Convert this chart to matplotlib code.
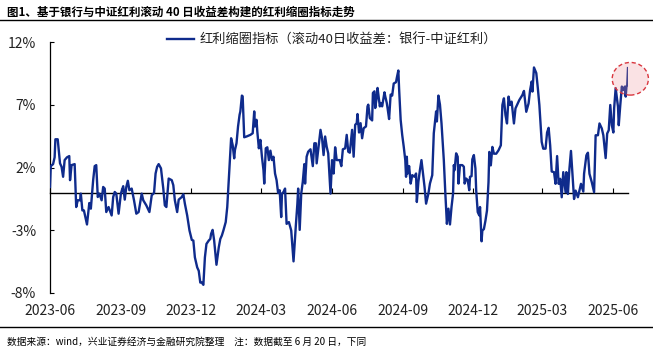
import matplotlib
matplotlib.use('Agg')
import matplotlib.pyplot as plt
import matplotlib.dates as mdates
from matplotlib.patches import Ellipse
from matplotlib.lines import Line2D
import pandas as pd

plt.rcParams['font.family'] = ['Noto Sans CJK SC', 'DejaVu Sans']

# ---------------- data ----------------
start_date = '2023-06-01'
end_date = '2025-06-20'

day_offset = [
    0, 1, 4, 6, 7, 10, 13, 15, 17, 19, 22, 25, 26, 28, 32, 34, 36, 39, 40, 42, 44, 48, 51, 53, 56, 58, 60,
    62, 64, 67, 69, 71, 73, 76, 80, 82, 84, 86, 89, 92, 95, 97, 99, 101, 103, 106, 109, 112, 115, 119, 121,
    125, 129, 132, 135, 137, 139, 141, 144, 147, 149, 151, 154, 158, 160, 162, 165, 167, 171, 173, 175, 178,
    181, 184, 186,
    188, 191, 193, 195, 197, 199, 201, 203, 206, 208, 209, 211, 213, 216, 219, 221, 223, 225, 228, 230, 232,
    235, 237, 239, 240, 242, 244, 246, 247, 249, 250, 252, 255, 260, 263, 265, 266, 268, 269, 271, 273, 275,
    277, 278, 280, 282, 284, 286, 288, 290, 292, 294, 296, 298, 300, 301, 303, 305, 307, 310, 313, 316, 319,
    321, 322, 324, 326, 328, 330, 331, 333, 335, 338, 341, 343, 345, 346, 348, 351, 353, 355, 357, 359, 361,
    364, 366, 368, 370, 372,
    374, 376, 378, 380, 383, 385, 387, 389, 392, 394, 396, 398, 399, 401, 403, 405, 407, 410, 412, 413, 415,
    418, 419, 421, 422, 424, 425, 428, 429, 431, 434, 435, 437, 438, 440, 442, 444, 446, 449, 450, 452, 453,
    455, 457, 459, 461, 462, 463, 464, 466, 468, 470, 473, 475, 476, 478, 480, 482, 483, 486, 488, 491, 493,
    496, 498, 500, 501, 502, 504, 506, 508, 511, 513, 515, 517, 519, 521, 523, 524, 525, 527, 529, 530, 532,
    535, 537, 538, 540, 542, 544, 545, 547, 548, 550, 552, 553, 555, 557, 558, 560, 561,
    563, 565, 567, 569, 570, 572, 574, 576, 579, 582, 585, 587, 589, 591, 593, 595, 597, 599, 602, 604, 606,
    609, 613, 615, 618, 621, 623, 625, 626, 628, 631, 633, 635, 638, 640, 643, 645, 647, 649, 651, 654, 656,
    658, 660, 662, 664, 666, 669, 670, 672, 674, 676, 678, 680, 682, 685, 687, 689, 692, 693, 696, 698, 700,
    703, 706, 708, 711, 713, 716, 718, 721, 723, 725, 727, 729, 731, 732, 734, 737, 738, 740, 742, 744, 746,
    747, 748, 749, 750,
]

spread_pct = [
    0.45, 2.11, 2.27, 2.81, 4.25, 4.25, 2.33, 2.06, 1.26, 2.59, 2.81, 2.91, 0.99, 2.19, 2.27, -1.15, -0.61,
    -0.61, -0.08, -1.42, -1.42, -2.54, -0.83, -1.28, 0.99, 2.11, 2.19,
    -0.35, -0.08, -0.61, 0.45, 0.32, -1.55, -1.15, -1.82, -0.35, 0.05, -0.08, -1.68, -0.08, 0.51, -0.56, 0.45,
    0.94, 0.19, 0.32, -0.61, -1.68, -1.55, -0.08, -0.61,
    -1.02, -1.55, -0.21, -0.03, 1.52, 2.06, 2.27, 1.93, 0.32, -1.02, -1.15, 1.12, 0.99, 0.59, -0.61, -1.55,
    -0.56, -0.35, -0.13, -0.88, -1.82,
    -3.02, -3.77, -3.82,
    -5.16, -5.96, -6.23, -7.17, -7.17, -7.35, -5.16, -4.09, -3.82, -3.69, -3.29, -2.97, -3.82, -5.75, -4.36,
    -3.69, -3.42, -3.02, -2.35, -1.15, 0.99,
    4.33, 3.80, 2.73, 3.40, 3.93, 5.27, 6.20, 6.47, 7.73, 7.67, 4.41, 4.47, 4.60, 4.73, 6.47, 5.27, 5.80, 4.87,
    3.53, 4.20, 2.86,
    1.79, 0.72, 3.53, 3.61, 2.59, 3.34, 2.59, 2.86, 1.52, 0.99, -0.03, 0.19, -1.95, -0.08, 0.05, 0.32, -2.49,
    -2.35, -3.02, -5.48, -2.62,
    -0.88, 0.32, -2.97, -0.08, 0.86, 2.27, 0.72, 2.86, 3.26, 3.45, 2.11, 3.93, 3.93, 2.33, 3.40, 5.00, 4.33,
    2.99, 4.47, 3.66, 3.13,
    -0.08, 2.59, 1.52, 3.61, 2.59,
    2.59, 2.59, 2.11, 3.45, 3.53, 4.60, 3.26, 3.18, 5.00, 2.86, 5.40, 5.53, 6.26, 4.79, 5.53, 4.33, 5.13, 5.27,
    6.87, 7.01, 5.94,
    5.75, 7.94, 8.07, 6.74, 7.62, 8.34, 6.87, 7.14, 6.87, 7.99, 7.67, 7.14, 6.74, 5.86, 7.81, 7.73, 8.69, 8.80,
    9.14, 9.73, 8.26,
    5.80, 4.60, 3.66, 2.59, 1.26, 2.86, 1.52, 2.11, 0.72, 1.39, 1.26, 1.52, -0.75, 0.86, 1.79, 2.59, 2.06, 0.45,
    -0.88, -0.08, 0.72,
    1.39, 4.73, 5.94, 6.47, 5.67, 7.73, 7.01, 5.53, 2.59, -0.08, -2.49, -1.28, -2.54, -1.15, -0.08, 2.19, 1.79,
    3.13, 2.86, 0.72, 2.19,
    2.19, 2.06, 0.72, 1.12, 0.99, 0.19, 1.26, 1.31, 2.65, 2.99, 1.93, 0.19, -1.55, -1.82, -1.15, -3.88, -3.02,
    -2.91, -2.25, -1.44, 0.83, 3.24, 2.17, 3.64, 3.10, 3.10, 3.37, 3.77, 6.98, 7.51, 6.18, 5.51, 7.65, 6.98,
    7.25, 5.51, 6.71, 6.98,
    7.38, 7.78, 8.10, 6.44, 7.11, 8.18, 8.85, 8.05, 9.97, 9.52, 8.32, 6.98, 4.04, 3.50, 3.50, 4.79, 5.16, 3.77,
    1.68, 1.63, 0.70,
    2.91, 0.70, 1.10, -0.37, 1.63, 0.03, 1.63, -0.11, 1.90, 3.32, 1.36, -0.51, 0.16, -0.37, 0.16, 0.70, 0.08,
    1.50, 2.97, 3.18, 1.50,
    0.83, 0.03, 4.57, 4.57, 5.51, 5.11, 4.57, 2.75, 4.71, 4.97, 6.98, 5.37, 4.79, 6.71, 8.32, 6.84, 5.37, 6.98,
    8.45, 8.18, 8.45,
    7.65, 8.45, 8.53, 9.92,
]

series_label = '红利缩圈指标（滚动40日收益差：银行-中证红利）'
title_text = '图1、基于银行与中证红利滚动 40 日收益差构建的红利缩圈指标走势'
note_text = '数据来源：wind，兴业证券经济与金融研究院整理　注：数据截至 6 月 20 日，下同'
y_ticks = [-8, -3, 2, 7, 12]
y_tick_labels = ['-8%', '-3%', '2%', '7%', '12%']
x_tick_dates = ['2023-06-01', '2023-09-01', '2023-12-01', '2024-03-01', '2024-06-01',
                '2024-09-01', '2024-12-01', '2025-03-01', '2025-06-01']
x_tick_labels = ['2023-06', '2023-09', '2023-12', '2024-03', '2024-06',
                 '2024-09', '2024-12', '2025-03', '2025-06']
highlight_day = 753      # centre of the highlighted latest reading
highlight_value = 9.07

# ---------------- figure ----------------
W, H = 653, 360
fig = plt.figure(figsize=(W / 100, H / 100), dpi=100)
ax = fig.add_axes([50 / W, 1 - 293 / H, (628 - 50) / W, (293 - 42) / H])

t0 = pd.Timestamp(start_date)
dates = [t0 + pd.Timedelta(days=d) for d in day_offset]
x = mdates.date2num(dates)

line_color = '#0f2b8c'
ax.plot(x, spread_pct, color=line_color, lw=1.7, zorder=3, label=series_label,
        solid_joinstyle='round')

ax.set_xlim(mdates.date2num(t0), mdates.date2num(pd.Timestamp(end_date)))
ax.set_ylim(-8, 12)

ax.set_yticks(y_ticks)
ax.set_yticklabels(y_tick_labels)
ax.tick_params(axis='y', direction='in', length=3, width=0.8, pad=10,
               labelsize=10, labelcolor='#222222')

xt = mdates.date2num([pd.Timestamp(d) for d in x_tick_dates])
ax.set_xticks(xt)
ax.tick_params(axis='x', direction='in', length=3.5, width=0.8, labelbottom=False)

for s in ['top', 'right']:
    ax.spines[s].set_visible(False)
ax.spines['left'].set_linewidth(0.9)
ax.spines['bottom'].set_position(('data', 0))
ax.spines['bottom'].set_linewidth(1.0)

sec = ax.secondary_xaxis('bottom')
sec.set_xticks(xt)
sec.set_xticklabels(x_tick_labels)
sec.tick_params(length=0, pad=8, labelsize=10, labelcolor='#222222')
sec.spines['bottom'].set_visible(False)

# highlight ellipse
ell = Ellipse((mdates.date2num(t0 + pd.Timedelta(days=highlight_day)), highlight_value),
              width=47, height=2.6, facecolor=(0.93, 0.55, 0.58, 0.25),
              edgecolor='#d9363e', linestyle=(0, (3, 2)), linewidth=1.0,
              clip_on=False, zorder=4)
ax.add_patch(ell)

leg = ax.legend(loc='center', bbox_to_anchor=(332 / W, 1 - 40 / H),
                bbox_transform=fig.transFigure, frameon=False, fontsize=9.5,
                handlelength=2.0, handletextpad=0.4, borderpad=0, borderaxespad=0)
for t in leg.get_texts():
    t.set_color('#222222')

# title, rules and source note
fig.text(7 / W, 1 - 12 / H, title_text, fontsize=8.3, fontweight='bold',
         ha='left', va='center', color='black')
fig.add_artist(Line2D([0, 1], [1 - 20 / H] * 2, transform=fig.transFigure,
                      color='black', lw=1.0))
fig.add_artist(Line2D([0, 1], [1 - 327 / H] * 2, transform=fig.transFigure,
                      color='black', lw=1.0))
fig.text(7 / W, 1 - 342 / H, note_text, fontsize=7, ha='left', va='center', color='black')

fig.savefig('out.png', dpi=100)
